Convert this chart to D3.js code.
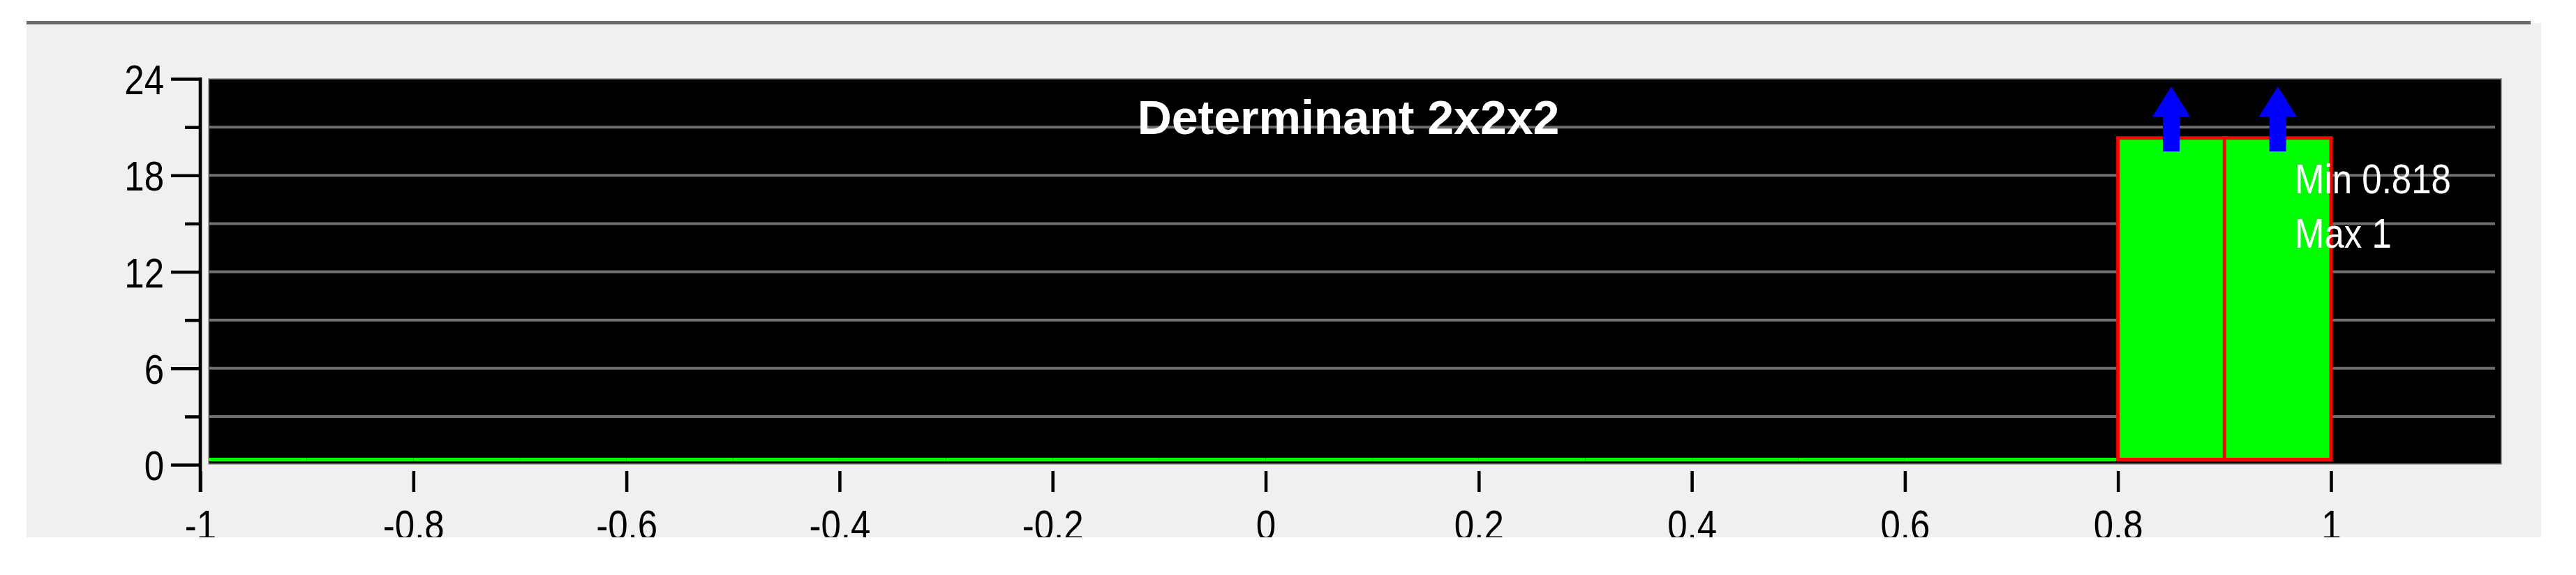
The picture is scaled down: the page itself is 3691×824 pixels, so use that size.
<!DOCTYPE html>
<html>
<head>
<meta charset="utf-8">
<script src="https://cdn.jsdelivr.net/npm/d3@7"></script>
<style>
  body { margin: 0; background: #ffffff; }
  svg { display: block; }
</style>
</head>
<body>
<div id="chart"></div>
<script>
// histogram of determinants, bins of 0.1 from -1 to 1
const binStarts = [-1.0, -0.9, -0.8, -0.7, -0.6, -0.5, -0.4, -0.3, -0.2, -0.1,
                   0.0, 0.1, 0.2, 0.3, 0.4, 0.5, 0.6, 0.7, 0.8, 0.9];
const binCounts = [0, 0, 0, 0, 0, 0, 0, 0, 0, 0,
                   0, 0, 0, 0, 0, 0, 0, 0, 20, 20];
const binWidth = 0.1;
const arrowBins = [0.85, 0.95];

const xTicks = [-1, -0.8, -0.6, -0.4, -0.2, 0, 0.2, 0.4, 0.6, 0.8, 1];
const yTicks = [0, 6, 12, 18, 24];
const yMinorTicks = [3, 9, 15, 21];
const gridValues = [3, 6, 9, 12, 15, 18, 21];

const title = "Determinant 2x2x2";
const statLabels = ["Min 0.818", "Max 1"];

const W = 3691, H = 824;
const plot = {left: 299, right: 3584, top: 113, bottom: 665};
const squeeze = 0.85;
const font = "'Liberation Sans', Arial, sans-serif";

const svg = d3.select("#chart").append("svg")
  .attr("width", W)
  .attr("height", H);

// grey panel + dark top rule
svg.append("rect")
  .attr("x", 38).attr("y", 33)
  .attr("width", 3603).attr("height", 737)
  .style("fill", "#f0f0f0");
svg.append("rect")
  .attr("x", 38).attr("y", 30)
  .attr("width", 3588).attr("height", 5)
  .style("fill", "#6b6b6b");

svg.append("clipPath").attr("id", "panel-clip")
  .append("rect").attr("x", 38).attr("y", 33).attr("width", 3603).attr("height", 737);
svg.append("clipPath").attr("id", "plot-clip")
  .append("rect").attr("x", plot.left).attr("y", plot.top)
  .attr("width", plot.right - plot.left).attr("height", plot.bottom - plot.top);

const x = d3.scaleLinear().domain([-1, 1]).range([287, 3340]);
const y = d3.scaleLinear().domain([0, 24]).range([666, 113]);

// plot background
svg.append("rect")
  .attr("x", plot.left).attr("y", plot.top)
  .attr("width", plot.right - plot.left).attr("height", plot.bottom - plot.top)
  .style("fill", "#000000")
  .style("stroke", "#8a8a8a")
  .style("stroke-width", 1.5);

// grid lines
svg.append("g").selectAll("line")
  .data(gridValues)
  .enter().append("line")
  .attr("x1", plot.left)
  .attr("x2", plot.right - 9)
  .attr("y1", d => y(d))
  .attr("y2", d => y(d))
  .style("stroke", "#6e6e6e")
  .style("stroke-width", 4);

// histogram
const bins = binStarts.map((s, i) => ({x0: s, x1: s + binWidth, count: binCounts[i]}));
const hist = svg.append("g")
  .attr("clip-path", "url(#plot-clip)")
  .append("g")
  .attr("transform", "translate(0,-7.5)");

hist.selectAll(".zero")
  .data(bins.filter(b => b.count === 0))
  .enter().append("line")
  .attr("class", "zero")
  .attr("x1", d => x(d.x0))
  .attr("x2", d => x(d.x1))
  .attr("y1", y(0))
  .attr("y2", y(0))
  .style("stroke", "#00ff00")
  .style("stroke-width", 5);

hist.selectAll(".bar")
  .data(bins.filter(b => b.count > 0))
  .enter().append("rect")
  .attr("class", "bar")
  .attr("x", d => x(d.x0))
  .attr("width", d => x(d.x1) - x(d.x0))
  .attr("y", d => y(d.count))
  .attr("height", d => y(0) - y(d.count))
  .style("fill", "#00ff00")
  .style("stroke", "#ff0000")
  .style("stroke-width", 5);

// overflow arrows
svg.append("g").selectAll("path")
  .data(arrowBins)
  .enter().append("path")
  .attr("d", d => {
    const c = x(d), tip = 124, base = 167, end = 217;
    return "M" + c + "," + tip +
      " L" + (c + 27) + "," + base +
      " L" + (c + 12) + "," + base +
      " L" + (c + 12) + "," + end +
      " L" + (c - 12) + "," + end +
      " L" + (c - 12) + "," + base +
      " L" + (c - 27) + "," + base + " Z";
  })
  .style("fill", "#0000ff");

// title
svg.append("text")
  .attr("x", 1932)
  .attr("y", 192)
  .attr("text-anchor", "middle")
  .style("font-family", font)
  .style("font-size", "68px")
  .style("font-weight", "bold")
  .style("fill", "#ffffff")
  .text(title);

// min / max
svg.append("g").selectAll("text")
  .data(statLabels)
  .enter().append("text")
  .attr("transform", (d, i) => "translate(3288," + (277 + i * 78) + ") scale(" + squeeze + ",1)")
  .style("font-family", font)
  .style("font-size", "60px")
  .style("fill", "#ffffff")
  .text(d => d);

// y axis
const yAxis = svg.append("g")
  .attr("transform", "translate(287,0)")
  .call(d3.axisLeft(y).tickValues(yTicks).tickSize(42).tickPadding(10).tickFormat(d => String(d)));
yAxis.select(".domain").remove();
yAxis.selectAll(".tick line").style("stroke", "#000").style("stroke-width", 4.5);
yAxis.selectAll(".tick text")
  .attr("x", -52 / squeeze)
  .attr("dy", "0.36em")
  .attr("transform", "scale(" + squeeze + ",1)")
  .style("font-family", font)
  .style("font-size", "60px")
  .style("fill", "#000");

const yMinor = svg.append("g")
  .attr("transform", "translate(287,0)")
  .call(d3.axisLeft(y).tickValues(yMinorTicks).tickSize(22).tickFormat(""));
yMinor.select(".domain").remove();
yMinor.selectAll(".tick line").style("stroke", "#000").style("stroke-width", 4.5);

svg.append("line")
  .attr("x1", 287).attr("x2", 287)
  .attr("y1", y(24) - 2).attr("y2", y(0) + 39)
  .style("stroke", "#000")
  .style("stroke-width", 4.6);

// x axis
const xAxis = svg.append("g")
  .attr("clip-path", "url(#panel-clip)")
  .append("g")
  .attr("transform", "translate(0,675)")
  .call(d3.axisBottom(x).tickValues(xTicks).tickSize(30).tickPadding(25).tickFormat(d => String(d)));
xAxis.select(".domain").remove();
xAxis.selectAll(".tick line").style("stroke", "#000").style("stroke-width", 4.5);
xAxis.selectAll(".tick text")
  .attr("transform", "scale(" + squeeze + ",1)")
  .style("font-family", font)
  .style("font-size", "60px")
  .style("fill", "#000");
</script>
</body>
</html>
